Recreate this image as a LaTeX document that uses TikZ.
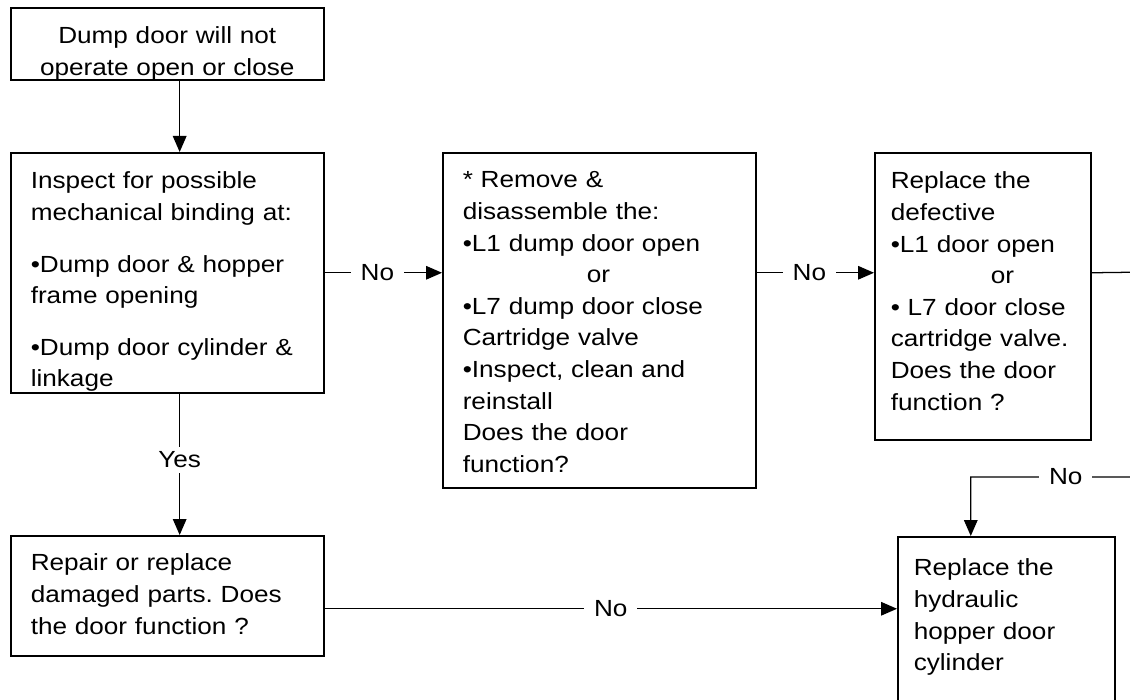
\documentclass[tikz,border=0pt]{standalone}
\usepackage{fontspec}
\setmainfont{Liberation Sans}[FakeStretch=1.12]
\usetikzlibrary{arrows.meta}
\frenchspacing

\begin{document}
\begin{tikzpicture}[
        stepbox/.style={rectangle, draw=black, line width=1.1pt, anchor=north west, inner xsep=0.5cm, inner ysep=0pt, text width=6.825cm, align=left, font=\fontsize{16.6pt}{22.5pt}\selectfont},
        flow/.style={draw=black, line width=0.9pt, -{Triangle[length=0.4cm, width=0.34cm]}},
        lbl/.style={fill=white, inner xsep=0.25cm, inner ysep=0.12cm, font=\fontsize{16.6pt}{22.5pt}\selectfont}
    ]
        \useasboundingbox (0,0) rectangle (28.25,-17.5);
        \clip (0,0) rectangle (28.25,-17.5);

        % Nodes
        \node (fault) at (0.25, -0.175) [stepbox, align=center, text height=0.9cm, text depth=0.9cm] {Dump door will not\\operate open or close};
        \node (inspect) at (0.25, -3.8) [stepbox, text height=0.9cm, text depth=5.1cm] {Inspect for possible\\mechanical binding at:\\[0.5cm]•Dump door \& hopper\\frame opening\\[0.5cm]•Dump door cylinder \&\\linkage};
        \node (valvechk) at (11.05, -3.8) [stepbox, text height=0.875cm, text depth=7.5cm] {* Remove \&\\disassemble the:\\•L1 dump door open\\\hspace*{3.1cm}or\\•L7 dump door close\\Cartridge valve\\•Inspect, clean and\\reinstall\\Does the door\\function?};
        \node (valverep) at (21.85, -3.8) [stepbox, inner xsep=0.4cm, text width=4.6cm, text height=0.9cm, text depth=6.275cm] {Replace the\\defective\\•L1 door open\\\hspace*{2.5cm}or\\• L7 door close\\cartridge valve.\\Does the door\\function ?};
        \node (repair) at (0.25, -13.375) [stepbox, text height=0.875cm, text depth=2.125cm] {Repair or replace\\damaged parts. Does\\the door function ?};
        \node (cylinder) at (22.425, -13.4) [stepbox, inner xsep=0.4cm, text width=4.625cm, text height=0.975cm, text depth=5cm] {Replace the\\hydraulic\\hopper door\\cylinder};

        \coordinate (rimtop) at (28.75, -6.8);
        \coordinate (rimlow) at (28.75, -11.925);

        % Arrows
        \draw[flow] ([xshift=0.31cm]fault.south) -- ([xshift=0.31cm]inspect.north);
        \draw[flow] (inspect.east) -- node[lbl, pos=0.45] {No} (inspect.east -| valvechk.west);
        \draw[flow] (valvechk.east |- inspect.east) -- node[lbl, pos=0.45] {No} (valverep.west |- inspect.east);
        \draw[flow] (valverep.east |- inspect.east) -- (rimtop) -- (rimlow) -- node[lbl, pos=0.47] {No} ([xshift=-0.8875cm]cylinder.north |- rimlow) -- ([xshift=-0.8875cm]cylinder.north);
        \draw[flow] ([xshift=0.31cm]inspect.south) -- node[lbl, pos=0.47] {Yes} ([xshift=0.31cm]repair.north);
        \draw[flow] ([yshift=-0.325cm]repair.east) -- node[lbl] {No} ([yshift=-0.325cm]repair.east -| cylinder.west);

    \end{tikzpicture}
\end{document}
